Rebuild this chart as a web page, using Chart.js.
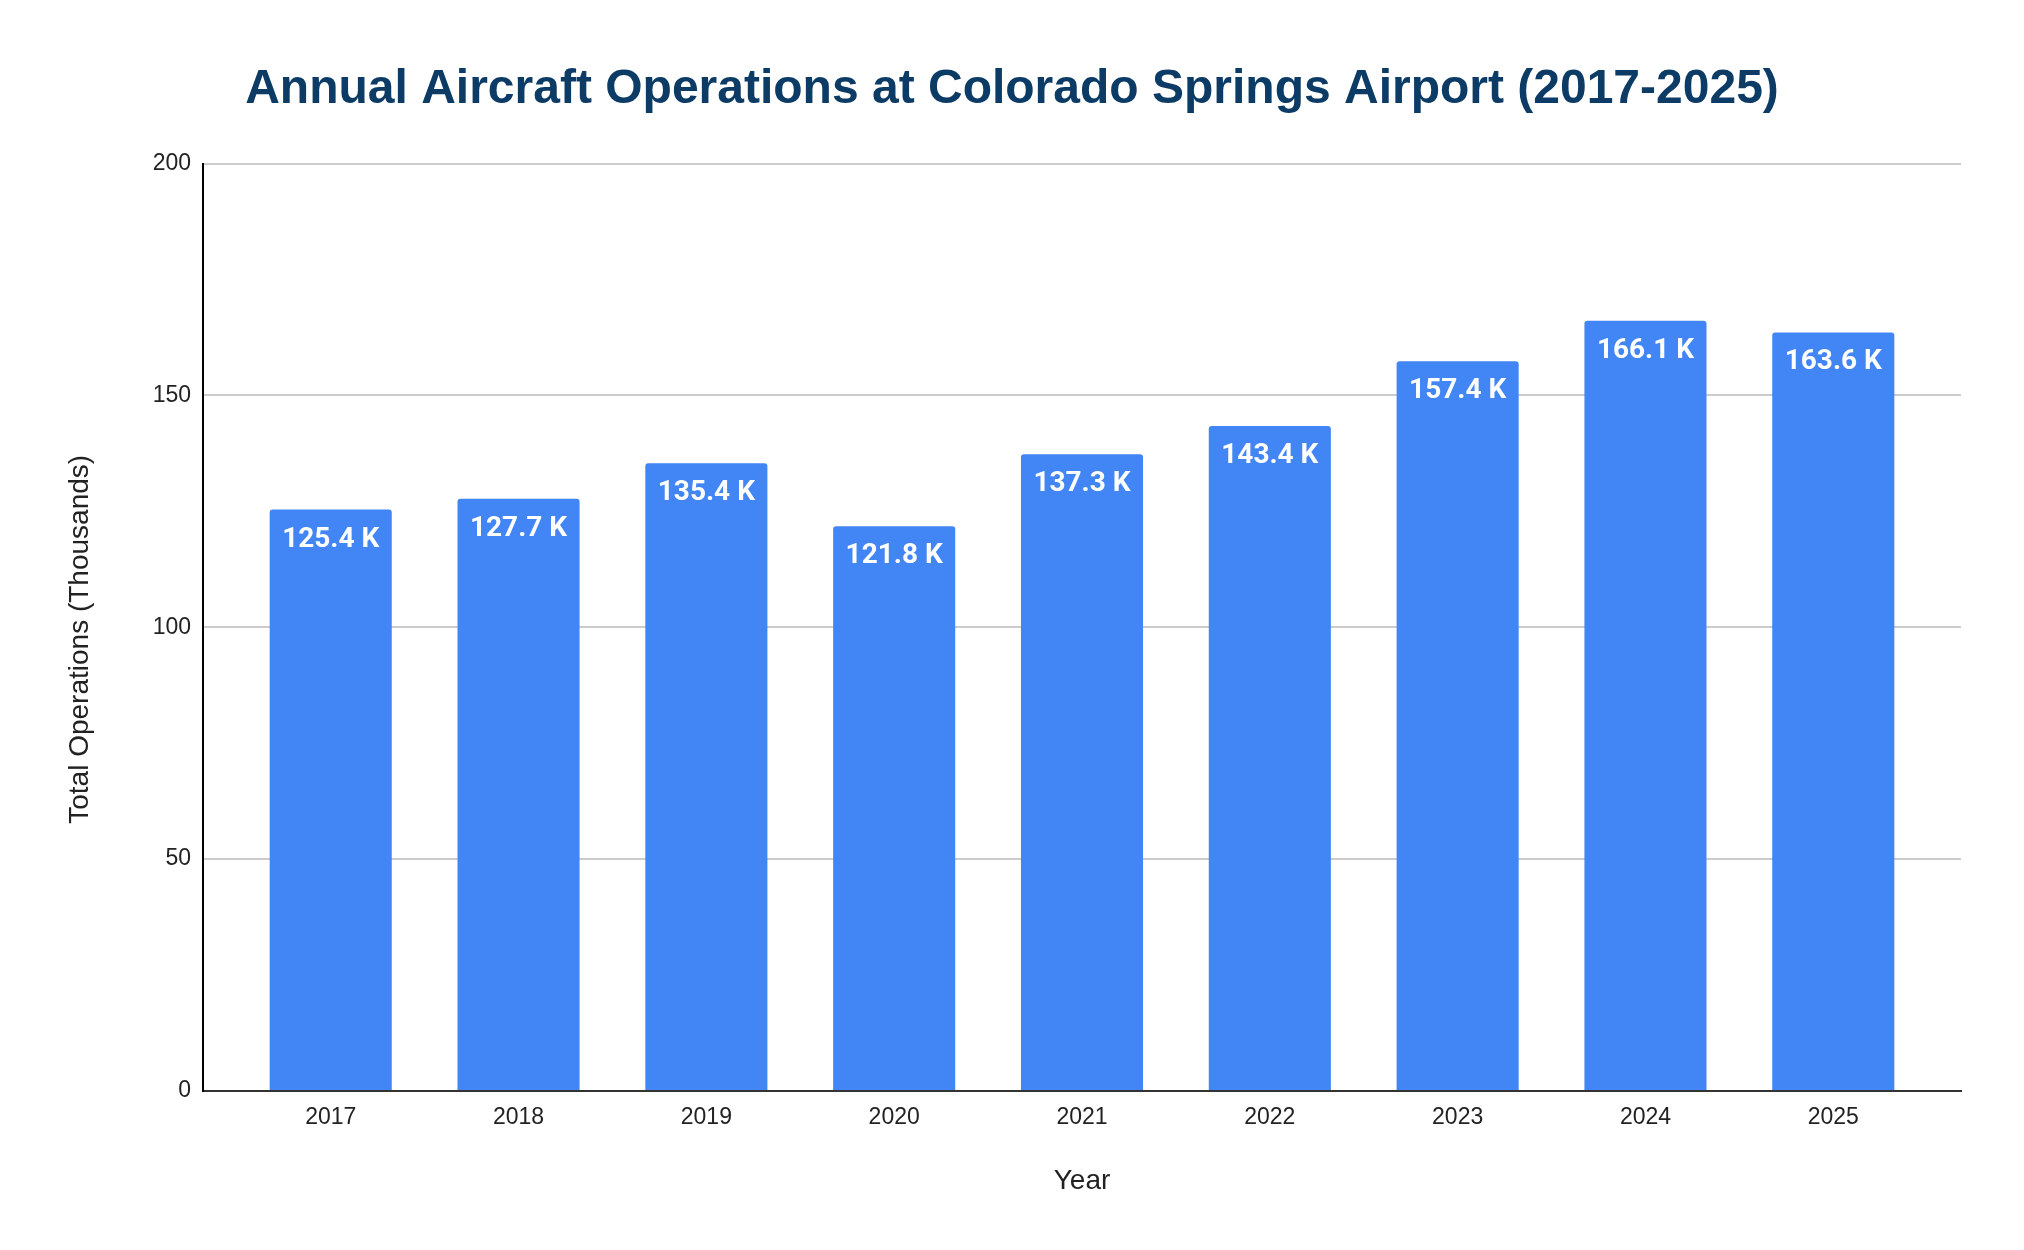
<!DOCTYPE html>
<html>
<head>
<meta charset="utf-8">
<script src="https://cdn.jsdelivr.net/npm/chart.js@4.4.1/dist/chart.umd.min.js"></script>
<style>
  html, body { margin: 0; padding: 0; background: #ffffff; }
  canvas { display: block; }
</style>
</head>
<body>
<canvas id="chart" width="2024" height="1250"></canvas>
<script>
const years = ["2017", "2018", "2019", "2020", "2021", "2022", "2023", "2024", "2025"];
const operations = [125.4, 127.7, 135.4, 121.8, 137.3, 143.4, 157.4, 166.1, 163.6];
const yTicks = [0, 50, 100, 150, 200];

const TITLE = "Annual Aircraft Operations at Colorado Springs Airport (2017-2025)";
const Y_TITLE = "Total Operations (Thousands)";
const X_TITLE = "Year";

const barLabels = {
  id: 'barLabels',
  afterDatasetsDraw(chart) {
    const ctx = chart.ctx;
    const meta = chart.getDatasetMeta(0);
    ctx.save();
    ctx.fillStyle = '#ffffff';
    ctx.font = '700 28px Roboto';
    ctx.textAlign = 'center';
    ctx.textBaseline = 'alphabetic';
    meta.data.forEach((bar, i) => {
      ctx.fillText(operations[i].toFixed(1) + ' K', bar.x, bar.y + 37);
    });
    ctx.restore();
  }
};

const yAxisTitle = {
  id: 'yAxisTitle',
  afterDraw(chart) {
    const ctx = chart.ctx;
    const area = chart.chartArea;
    ctx.save();
    ctx.translate(80, (area.top + area.bottom) / 2 + 12);
    ctx.rotate(-Math.PI / 2);
    ctx.fillStyle = '#222222';
    ctx.font = "28px 'Liberation Sans', Arial, sans-serif";
    ctx.textAlign = 'center';
    ctx.textBaseline = 'middle';
    ctx.fillText(Y_TITLE, 0, 0);
    ctx.restore();
  }
};

new Chart(document.getElementById('chart'), {
  type: 'bar',
  data: {
    datasets: [{
      data: operations.map((v, i) => ({ x: i, y: v })),
      backgroundColor: '#4285F4',
      borderRadius: { topLeft: 3, topRight: 3, bottomLeft: 0, bottomRight: 0 },
      borderSkipped: 'start',
      barPercentage: 0.65,
      categoryPercentage: 1
    }]
  },
  plugins: [barLabels, yAxisTitle],
  options: {
    responsive: false,
    devicePixelRatio: 1,
    animation: false,
    layout: { padding: { left: 63, right: 63, top: 0, bottom: 42 } },
    plugins: {
      legend: { display: false },
      tooltip: { enabled: false },
      title: {
        display: true,
        text: TITLE,
        color: '#0c3b66',
        font: { family: "'Liberation Sans', Arial, sans-serif", size: 48, weight: 'bold' },
        padding: { top: 61, bottom: 45 }
      }
    },
    scales: {
      x: {
        type: 'linear',
        offset: false,
        min: -0.68,
        max: years.length - 1 + 0.68,
        afterBuildTicks: (s) => { s.ticks = years.map((_, i) => ({ value: i })); },
        afterFit: (s) => { s.height = 117; },
        grid: { display: false, drawTicks: false },
        border: { display: true, color: '#333333', width: 2 },
        ticks: {
          autoSkip: false,
          maxRotation: 0,
          padding: 13,
          color: '#222222',
          font: { family: "'Liberation Sans', Arial, sans-serif", size: 23 },
          callback: (v) => years[v]
        },
        title: {
          display: true,
          text: X_TITLE,
          color: '#222222',
          font: { family: "'Liberation Sans', Arial, sans-serif", size: 28 },
          padding: { top: 0, bottom: 10 }
        }
      },
      y: {
        min: yTicks[0],
        max: yTicks[yTicks.length - 1],
        afterBuildTicks: (s) => { s.ticks = yTicks.map(v => ({ value: v })); },
        afterFit: (s) => { s.width = 140; },
        grid: {
          color: (c) => (c.tick && c.tick.value === 0) ? '#333333' : '#cccccc',
          lineWidth: 2,
          drawTicks: false
        },
        border: { display: true, color: '#000000', width: 2 },
        ticks: {
          padding: 12,
          color: '#222222',
          font: { family: "'Liberation Sans', Arial, sans-serif", size: 23 }
        },
        title: { display: false }
      }
    }
  }
});
</script>
</body>
</html>
